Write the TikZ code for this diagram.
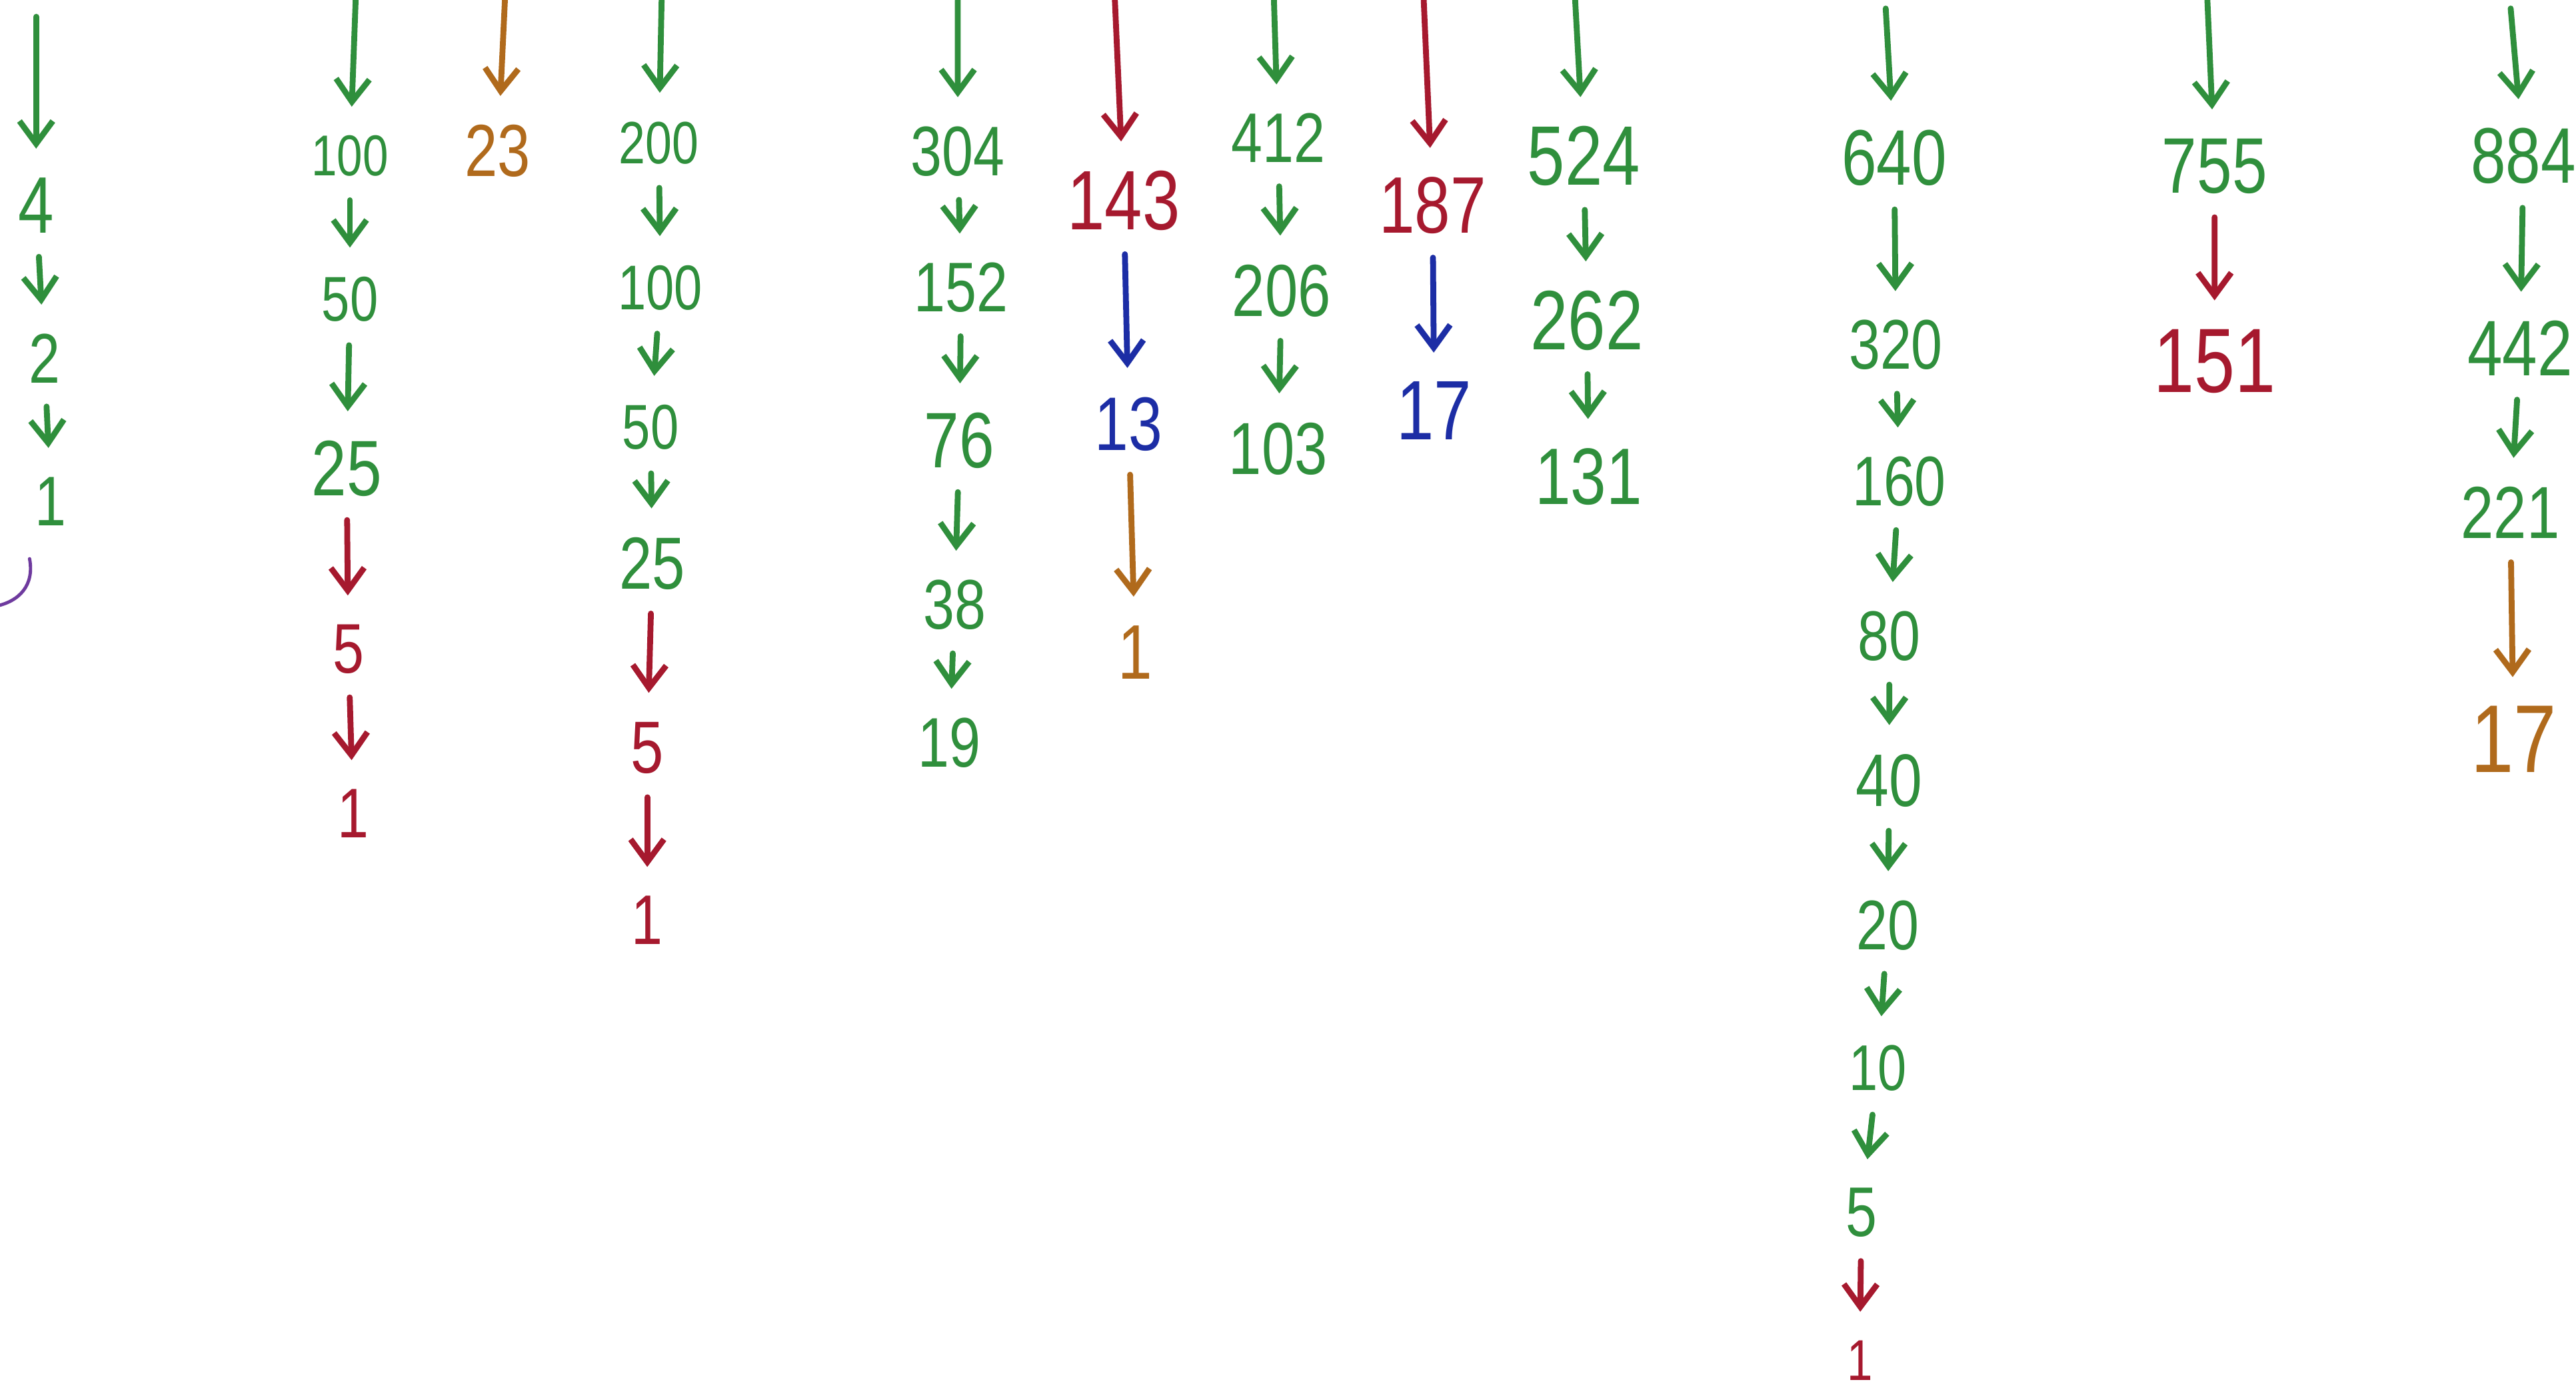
\documentclass[tikz,border=0pt]{standalone}
\usepackage{fontspec}
\setmainfont{Liberation Sans}
\usetikzlibrary{arrows.meta}

\definecolor{pengreen}{HTML}{2F8F3C}
\definecolor{penred}{HTML}{A6192E}
\definecolor{penblue}{HTML}{1C2DA5}
\definecolor{penorange}{HTML}{B06A1C}
\definecolor{penpurple}{HTML}{6E3A9E}

\begin{document}
\begin{tikzpicture}
[
    x=0.2465mm, y=-0.2465mm,
    num/.style={font=\fontsize{30}{30}\selectfont, inner sep=0pt, xscale=0.8},
    link/.style={-{Straight Barb[length=3.4mm, width=5mm]}, line width=2.5pt,
                 line cap=round, line join=round, shorten <=3.5mm, shorten >=4.3mm},
]
\useasboundingbox (0,0) rectangle (1568,848);

\coordinate (ta) at (22,-4);
\coordinate (tb) at (217,-14);
\coordinate (tc) at (308,-14);
\coordinate (td) at (403,-14);
\coordinate (te) at (583,-14);
\coordinate (tf) at (678,-14);
\coordinate (tg) at (775,-14);
\coordinate (th) at (866,-14);
\coordinate (ti) at (958,-14);
\coordinate (tj) at (1147,-9);
\coordinate (tk) at (1343,-14);
\coordinate (tl) at (1527,-9);

\node[num, pengreen, scale=1.14] (a4) at (22,125) {4};
\node[num, pengreen, scale=1.00] (a2) at (27,218) {2};
\node[num, pengreen, scale=1.00] (a1) at (31,305) {1};

\node[num, pengreen, scale=0.82] (b100) at (213,95) {100};
\node[num, pengreen, scale=0.90] (b50) at (213,182) {50};
\node[num, pengreen, scale=1.12] (b25) at (211,285) {25};
\node[num, penred, scale=1.00] (b5) at (212,395) {5};
\node[num, penred, scale=1.00] (b1) at (215,495) {1};

\node[num, penorange, scale=1.05] (c23) at (303,92) {23};

\node[num, pengreen, scale=0.85] (d200) at (401,87) {200};
\node[num, pengreen, scale=0.90] (d100) at (402,175) {100};
\node[num, pengreen, scale=0.90] (d50) at (396,260) {50};
\node[num, pengreen, scale=1.05] (d25) at (397,343) {25};
\node[num, penred, scale=1.05] (d5) at (394,455) {5};
\node[num, penred, scale=1.00] (d1) at (394,560) {1};

\node[num, pengreen, scale=1.00] (e304) at (583,92) {304};
\node[num, pengreen, scale=1.00] (e152) at (585,175) {152};
\node[num, pengreen, scale=1.12] (e76) at (584,268) {76};
\node[num, pengreen, scale=1.00] (e38) at (581,368) {38};
\node[num, pengreen, scale=1.00] (e19) at (578,452) {19};

\node[num, penred, scale=1.20] (f143) at (684,122) {143};
\node[num, penblue, scale=1.08] (f13) at (687,258) {13};
\node[num, penorange, scale=1.10] (f1) at (691,397) {1};

\node[num, pengreen, scale=1.00] (g412) at (778,84) {412};
\node[num, pengreen, scale=1.05] (g206) at (780,177) {206};
\node[num, pengreen, scale=1.05] (g103) at (778,273) {103};

\node[num, penred, scale=1.14] (h187) at (872,125) {187};
\node[num, penblue, scale=1.20] (h17) at (873,250) {17};

\node[num, pengreen, scale=1.20] (i524) at (964,95) {524};
\node[num, pengreen, scale=1.20] (i262) at (966,195) {262};
\node[num, pengreen, scale=1.14] (i131) at (967,290) {131};

\node[num, pengreen, scale=1.12] (j640) at (1153,96) {640};
\node[num, pengreen, scale=1.00] (j320) at (1154,210) {320};
\node[num, pengreen, scale=1.00] (j160) at (1156,293) {160};
\node[num, pengreen, scale=1.00] (j80) at (1150,387) {80};
\node[num, pengreen, scale=1.06] (j40) at (1150,475) {40};
\node[num, pengreen, scale=1.00] (j20) at (1149,563) {20};
\node[num, pengreen, scale=0.92] (j10) at (1143,650) {10};
\node[num, pengreen, scale=1.00] (j5) at (1133,738) {5};
\node[num, penred, scale=0.82] (j1) at (1132,828) {1};

\node[num, pengreen, scale=1.12] (k755) at (1348,101) {755};
\node[num, penred, scale=1.30] (k151) at (1348,220) {151};

\node[num, pengreen, scale=1.12] (l884) at (1536,95) {884};
\node[num, pengreen, scale=1.12] (l442) at (1534,212) {442};
\node[num, pengreen, scale=1.05] (l221) at (1528,312) {221};
\node[num, penorange, scale=1.37] (l17) at (1530,450) {17};

\draw[link, pengreen] (ta) -- (a4);
\draw[link, pengreen] (a4) -- (a2);
\draw[link, pengreen] (a2) -- (a1);
\draw[penpurple, line width=1.4pt, line cap=round]
    (18,340) .. controls (21,356) and (12,366) .. (-3,369);

\draw[link, pengreen] (tb) -- (b100);
\draw[link, pengreen] (b100) -- (b50);
\draw[link, pengreen] (b50) -- (b25);
\draw[link, penred] (b25) -- (b5);
\draw[link, penred] (b5) -- (b1);

\draw[link, penorange] (tc) -- (c23);

\draw[link, pengreen] (td) -- (d200);
\draw[link, pengreen] (d200) -- (d100);
\draw[link, pengreen] (d100) -- (d50);
\draw[link, pengreen] (d50) -- (d25);
\draw[link, penred] (d25) -- (d5);
\draw[link, penred] (d5) -- (d1);

\draw[link, pengreen] (te) -- (e304);
\draw[link, pengreen] (e304) -- (e152);
\draw[link, pengreen] (e152) -- (e76);
\draw[link, pengreen] (e76) -- (e38);
\draw[link, pengreen] (e38) -- (e19);

\draw[link, penred] (tf) -- (f143);
\draw[link, penblue] (f143) -- (f13);
\draw[link, penorange] (f13) -- (f1);

\draw[link, pengreen] (tg) -- (g412);
\draw[link, pengreen] (g412) -- (g206);
\draw[link, pengreen] (g206) -- (g103);

\draw[link, penred] (th) -- (h187);
\draw[link, penblue] (h187) -- (h17);

\draw[link, pengreen] (ti) -- (i524);
\draw[link, pengreen] (i524) -- (i262);
\draw[link, pengreen] (i262) -- (i131);

\draw[link, pengreen] (tj) -- (j640);
\draw[link, pengreen] (j640) -- (j320);
\draw[link, pengreen] (j320) -- (j160);
\draw[link, pengreen] (j160) -- (j80);
\draw[link, pengreen] (j80) -- (j40);
\draw[link, pengreen] (j40) -- (j20);
\draw[link, pengreen] (j20) -- (j10);
\draw[link, pengreen] (j10) -- (j5);
\draw[link, penred] (j5) -- (j1);

\draw[link, pengreen] (tk) -- (k755);
\draw[link, penred] (k755) -- (k151);

\draw[link, pengreen] (tl) -- (l884);
\draw[link, pengreen] (l884) -- (l442);
\draw[link, pengreen] (l442) -- (l221);
\draw[link, penorange] (l221) -- (l17);
\end{tikzpicture}
\end{document}
